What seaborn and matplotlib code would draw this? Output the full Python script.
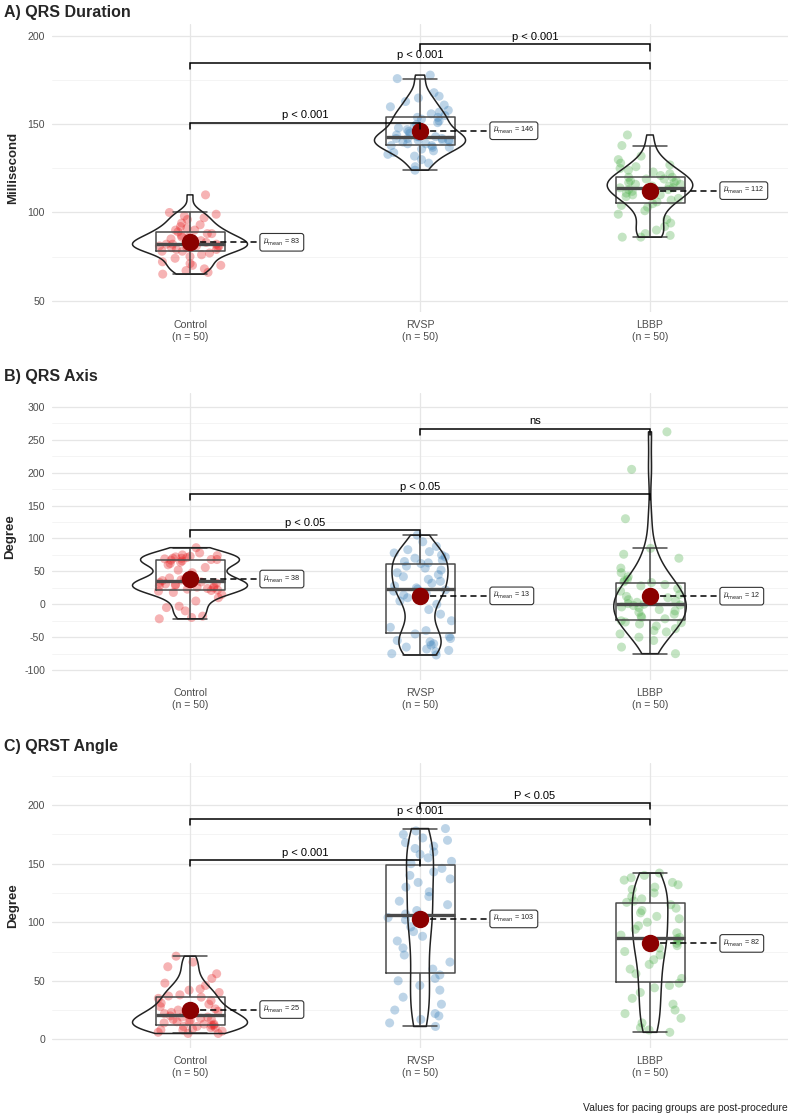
import numpy as np
import pandas as pd
import matplotlib
matplotlib.use("Agg")
import matplotlib.pyplot as plt
import seaborn as sns

# ---------------- data ----------------
groups = ["Control", "RVSP", "LBBP"]
palette = {"Control": "#E41A1C", "RVSP": "#377EB8", "LBBP": "#4DAF4A"}

qrs_dur_control = [65, 66, 67, 68, 70, 70, 71, 72, 74, 75, 76, 77, 78, 78, 79, 79, 80, 80, 80, 81,
                   81, 81, 82, 82, 82, 82, 83, 83, 84, 84, 85, 85, 86, 86, 87, 88, 88, 89, 90, 90,
                   91, 92, 93, 94, 96, 97, 98, 99, 100, 110]
qrs_dur_rvsp = [124, 126, 128, 130, 132, 133, 134, 135, 136, 137, 137, 138, 138, 139, 139, 140, 140,
                141, 141, 141, 142, 142, 142, 143, 143, 143, 144, 145, 146, 147, 148, 149, 150, 151,
                152, 153, 154, 154, 155, 156, 157, 158, 160, 161, 163, 165, 166, 168, 176, 178]
qrs_dur_lbbp = [86, 86, 87, 88, 90, 92, 94, 96, 99, 101, 103, 104, 105, 106, 107, 108, 109, 110, 110,
                111, 112, 112, 113, 113, 114, 114, 115, 115, 116, 116, 117, 117, 118, 118, 119, 119,
                120, 120, 121, 122, 123, 124, 125, 126, 127, 128, 130, 132, 138, 144]

qrs_axis_control = [-22, -20, -18, -10, -5, -3, 5, 10, 15, 18, 20, 21, 22, 23, 24, 25, 26, 27, 28, 29,
                    30, 31, 32, 33, 34, 36, 37, 38, 40, 44, 48, 52, 56, 60, 62, 64, 66, 67, 68, 68,
                    69, 70, 70, 71, 72, 73, 74, 75, 78, 86]
qrs_axis_rvsp = [-77, -75, -72, -70, -68, -65, -62, -60, -57, -55, -52, -49, -45, -40, -35, -25, -15,
                 -8, 0, 5, 10, 14, 17, 20, 22, 23, 25, 28, 32, 35, 38, 42, 45, 48, 52, 55, 58, 62,
                 63, 65, 67, 70, 72, 75, 78, 80, 83, 88, 95, 105]
qrs_axis_lbbp = [-75, -65, -55, -50, -45, -42, -40, -37, -33, -30, -28, -27, -25, -22, -20, -18, -15,
                 -12, -10, -8, -5, -4, -2, -1, 0, 1, 3, 5, 7, 10, 12, 15, 18, 20, 24, 28, 30, 33,
                 34, 36, 38, 42, 48, 55, 70, 76, 85, 130, 205, 262]

qrst_control = [5, 5, 6, 7, 8, 8, 9, 10, 10, 11, 11, 12, 12, 13, 13, 14, 15, 15, 16, 17, 17, 18, 19,
                19, 20, 21, 22, 23, 24, 25, 26, 27, 28, 30, 31, 33, 35, 36, 37, 38, 40, 42, 43, 46,
                48, 52, 56, 62, 66, 71]
qrst_rvsp = [11, 14, 17, 20, 22, 25, 30, 36, 42, 46, 50, 52, 55, 60, 66, 72, 78, 84, 88, 92, 96, 100,
             102, 104, 106, 107, 110, 115, 118, 122, 126, 130, 134, 137, 140, 143, 146, 150, 152,
             155, 158, 160, 163, 165, 168, 170, 172, 175, 178, 180]
qrst_lbbp = [6, 8, 10, 14, 18, 22, 25, 30, 35, 40, 44, 46, 48, 52, 56, 60, 64, 68, 72, 75, 78, 80, 82,
             84, 86, 87, 89, 91, 94, 97, 100, 103, 105, 108, 110, 112, 115, 117, 118, 120, 122, 125,
             128, 130, 132, 134, 136, 138, 140, 142]

panel_titles = ["A) QRS Duration", "B) QRS Axis", "C) QRST Angle"]
panel_ylabels = ["Millisecond", "Degree", "Degree"]
panel_data = [
    [qrs_dur_control, qrs_dur_rvsp, qrs_dur_lbbp],
    [qrs_axis_control, qrs_axis_rvsp, qrs_axis_lbbp],
    [qrst_control, qrst_rvsp, qrst_lbbp],
]
panel_yticks = [[50, 100, 150, 200], list(range(-100, 301, 50)), [0, 50, 100, 150, 200]]
panel_ylims = [(43.5, 207.0), (-115.0, 321.0), (-7.4, 236.0)]

bracket_pairs = [(0, 1), (0, 2), (1, 2)]
bracket_heights = [[151, 185, 195.5], [112.5, 167.5, 267], [153, 188.5, 202]]
bracket_labels = [["p < 0.001", "p < 0.001", "p < 0.001"],
                  ["p < 0.05", "p < 0.05", "ns"],
                  ["p < 0.001", "p < 0.001", "P < 0.05"]]
caption = "Values for pacing groups are post-procedure"

# ---------------- style ----------------
sns.set_style("white")
plt.rcParams["font.family"] = ["Liberation Sans", "DejaVu Sans"]
plt.rcParams["axes.unicode_minus"] = False
np.random.seed(7)

W, H = 790, 1115
fig = plt.figure(figsize=(W / 100, H / 100), dpi=100)

# axes positions in pixels: (left, top, right, bottom)
axes_px = [(52, 24, 788, 312), (52, 393, 788, 680), (52, 763, 788, 1048)]
title_px = [12, 377, 747]

for p in range(3):
    l, t, r, b = axes_px[p]
    ax = fig.add_axes([l / W, 1 - b / H, (r - l) / W, (b - t) / H])
    vals = panel_data[p]
    df = pd.DataFrame({
        "group": np.repeat(groups, [len(v) for v in vals]),
        "value": np.concatenate([np.asarray(v, float) for v in vals]),
    })

    # grid
    y0, y1 = panel_ylims[p]
    ticks = panel_yticks[p]
    step = ticks[1] - ticks[0]
    minors = np.arange(ticks[0] - step / 2, y1, step)
    minors = [m for m in minors if y0 < m < y1]
    for m in minors:
        ax.axhline(m, color="#F3F3F3", lw=0.6, zorder=0)
    for tk in ticks:
        ax.axhline(tk, color="#E6E6E6", lw=0.9, zorder=0)
    for i in range(3):
        ax.axvline(i, color="#E6E6E6", lw=0.9, zorder=0)

    sns.stripplot(data=df, x="group", y="value", hue="group", order=groups,
                  palette=palette, alpha=0.33, size=6.5, jitter=0.14, linewidth=0,
                  legend=False, ax=ax, zorder=2)
    sns.boxplot(data=df, x="group", y="value", order=groups, width=0.3, fill=False,
                color="#4A4A4A", linewidth=1.1, showfliers=False, whis=1.5,
                medianprops={"linewidth": 2.4, "color": "#4A4A4A"}, ax=ax, zorder=3)
    sns.violinplot(data=df, x="group", y="value", order=groups, fill=False, inner=None,
                   density_norm="area", cut=0, width=0.5, bw_adjust=0.85,
                   color="#222222", linewidth=1.1, ax=ax, zorder=3)
    sns.pointplot(data=df, x="group", y="value", order=groups, estimator="mean",
                  errorbar=None, color="#8B0000", marker="o", markersize=10.5,
                  linestyle="none", ax=ax, zorder=6)

    means = df.groupby("group")["value"].mean()
    for i, g in enumerate(groups):
        m = means[g]
        ax.plot([i, i + 0.30], [m, m], color="black", lw=1.1, ls=(0, (4, 2.6)), zorder=5)
        ax.text(i + 0.318, m, r"$\widehat{\mu}_{\mathrm{mean}}$" + f" = {m:.0f}",
                fontsize=5.2, ha="left", va="center", color="#222222", zorder=7,
                bbox=dict(boxstyle="round,pad=0.45,rounding_size=0.35", fc="white",
                          ec="#333333", lw=0.8))

    # significance brackets
    tip = 0.022 * (y1 - y0)
    for (a, c), h, lab in zip(bracket_pairs, bracket_heights[p], bracket_labels[p]):
        ax.plot([a, a, c, c], [h - tip, h, h, h - tip], color="black", lw=1.1, zorder=8,
                solid_joinstyle="miter")
        ax.text((a + c) / 2, h + 0.008 * (y1 - y0), lab, ha="center", va="bottom",
                fontsize=8, color="black", zorder=9)

    ax.set_xlim(-0.6, 2.6)
    ax.set_ylim(y0, y1)
    ax.set_yticks(ticks)
    ax.set_xticks(range(3))
    ax.set_xticklabels([f"{g}\n(n = {len(v)})" for g, v in zip(groups, vals)])
    ax.tick_params(axis="both", length=3, width=0.8, color="#333333",
                   labelsize=7.6, labelcolor="#4D4D4D", pad=2)
    ax.tick_params(axis="x", pad=3)
    for s in ax.spines.values():
        s.set_visible(False)
    ax.set_xlabel("")
    ax.set_ylabel(panel_ylabels[p], fontsize=9.5, fontweight="bold", labelpad=6)
    ax.grid(False)

    fig.text(4 / W, 1 - title_px[p] / H, panel_titles[p], fontsize=11.5, fontweight="bold",
             ha="left", va="center")

fig.text(788 / W, 1 - 1108 / H, caption, fontsize=7.5, ha="right", va="center", color="#222222")

fig.savefig("out.png", dpi=100)
